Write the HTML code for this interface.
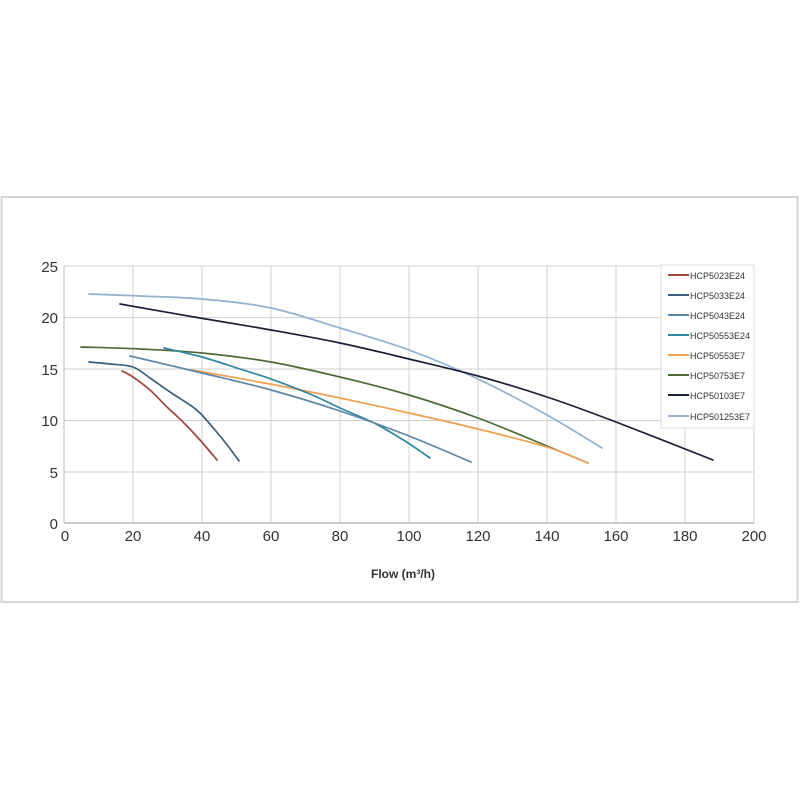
<!DOCTYPE html>
<html><head><meta charset="utf-8"><style>
html,body{margin:0;padding:0;background:#fff;width:800px;height:800px;overflow:hidden}
svg{display:block}
text{font-family:"Liberation Sans",sans-serif;fill:#333}
</style></head><body>
<svg width="800" height="800" viewBox="0 0 800 800">
<rect x="1.5" y="197" width="796" height="405" fill="#fff" stroke="#d4d4d4" stroke-width="2"/>
<g stroke="#d0d0d0" stroke-width="1">
<line x1="133" y1="266" x2="133" y2="523"/><line x1="202" y1="266" x2="202" y2="523"/>
<line x1="271" y1="266" x2="271" y2="523"/><line x1="340" y1="266" x2="340" y2="523"/>
<line x1="409" y1="266" x2="409" y2="523"/><line x1="478" y1="266" x2="478" y2="523"/>
<line x1="547" y1="266" x2="547" y2="523"/><line x1="616" y1="266" x2="616" y2="523"/>
<line x1="685" y1="266" x2="685" y2="523"/><line x1="754" y1="266" x2="754" y2="523"/>
<line x1="64" y1="266" x2="754" y2="266"/><line x1="64" y1="317.6" x2="754" y2="317.6"/>
<line x1="64" y1="369" x2="754" y2="369"/><line x1="64" y1="420.5" x2="754" y2="420.5"/>
<line x1="64" y1="472" x2="754" y2="472"/>
</g>
<line x1="64" y1="266" x2="64" y2="523" stroke="#bbb"/>
<line x1="64" y1="523" x2="754" y2="523" stroke="#bbb" stroke-width="1.5"/>
<g font-size="15" text-anchor="end">
<text x="58" y="272">25</text><text x="58" y="323">20</text><text x="58" y="375">15</text>
<text x="58" y="426">10</text><text x="58" y="478">5</text><text x="58" y="529">0</text>
</g>
<g font-size="15" text-anchor="middle">
<text x="65" y="541">0</text><text x="133" y="541">20</text><text x="202" y="541">40</text>
<text x="271" y="541">60</text><text x="340" y="541">80</text><text x="409" y="541">100</text>
<text x="478" y="541">120</text><text x="547" y="541">140</text><text x="616" y="541">160</text>
<text x="685" y="541">180</text><text x="754" y="541">200</text>
</g>
<text x="403" y="578" font-size="12" font-weight="bold" text-anchor="middle">Flow (m³/h)</text>
<g id="curves" fill="none" stroke-width="1.7" stroke-linejoin="round" stroke-linecap="round">
<polyline stroke="#93b0d0" points="89,294 140,296 202,299 271,308 340,328 409,350 478,379 547,415 602,448"/>
<polyline stroke="#1a2035" points="120,304 200,318 271,330 340,343 409,359 478,376 550,398 616,422 713,460"/>
<polyline stroke="#4e6b35" points="81,347 140,349 202,353 271,362 340,377 409,395 478,418 547,446 588,463"/>
<polyline stroke="#f0a050" points="192,370 270,384 340,398 409,413 478,429 547,447 588,463"/>
<polyline stroke="#2e86a0" points="164,348 202,357 240,369 271,379 310,394 340,408 374,423 405,441 430,458"/>
<polyline stroke="#5b87a8" points="130,356 202,373 271,390 340,411 409,436 471,462"/>
<polyline stroke="#3a5f7f" points="89,362 110,364 133,367 150,378 170,392 190,405 200,413 215,430 228,446 239,461"/>
<polyline stroke="#a0453a" points="122,371 133,377 150,390 167,407 183,422 200,440 217,460"/>
</g>
<rect x="661" y="265" width="93" height="163" fill="#fff" stroke="#ddd"/>
<g stroke-width="2">
<line x1="668" y1="275" x2="689" y2="275" stroke="#a0453a"/>
<line x1="668" y1="295" x2="689" y2="295" stroke="#3a5f7f"/>
<line x1="668" y1="315" x2="689" y2="315" stroke="#5b87a8"/>
<line x1="668" y1="335" x2="689" y2="335" stroke="#2e86a0"/>
<line x1="668" y1="355" x2="689" y2="355" stroke="#f0a050"/>
<line x1="668" y1="375" x2="689" y2="375" stroke="#4e6b35"/>
<line x1="668" y1="395" x2="689" y2="395" stroke="#1a2035"/>
<line x1="668" y1="416" x2="689" y2="416" stroke="#93b0d0"/>
</g>
<g font-size="9">
<text x="690" y="279">HCP5023E24</text><text x="690" y="299">HCP5033E24</text>
<text x="690" y="319">HCP5043E24</text><text x="690" y="339">HCP50553E24</text>
<text x="690" y="359">HCP50553E7</text><text x="690" y="379">HCP50753E7</text>
<text x="690" y="399">HCP50103E7</text><text x="690" y="420">HCP501253E7</text>
</g>
</svg>
<script>
(function(){
var ns="http://www.w3.org/2000/svg";
var pls=document.querySelectorAll("#curves polyline");
for(var i=0;i<pls.length;i++){
var pl=pls[i];
var p=pl.getAttribute("points").trim().split(/\s+/).map(function(s){return s.split(",").map(Number);});
var d="M"+p[0][0]+","+p[0][1];
for(var j=0;j<p.length-1;j++){
var p0=p[j-1]||p[j],p1=p[j],p2=p[j+1],p3=p[j+2]||p2;
var c1x=p1[0]+(p2[0]-p0[0])/6,c1y=p1[1]+(p2[1]-p0[1])/6;
var c2x=p2[0]-(p3[0]-p1[0])/6,c2y=p2[1]-(p3[1]-p1[1])/6;
d+=" C"+c1x+","+c1y+" "+c2x+","+c2y+" "+p2[0]+","+p2[1];
}
var path=document.createElementNS(ns,"path");
path.setAttribute("d",d);path.setAttribute("stroke",pl.getAttribute("stroke"));
pl.parentNode.replaceChild(path,pl);
}
})();
</script>
</body></html>
